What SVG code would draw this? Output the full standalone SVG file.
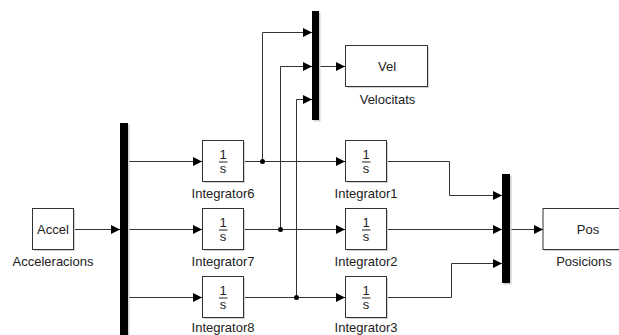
<svg xmlns="http://www.w3.org/2000/svg" width="619" height="335" viewBox="0 0 619 335">
<defs>
<marker id="arr" markerUnits="userSpaceOnUse" markerWidth="10" markerHeight="10" refX="9" refY="4.5" orient="auto">
<path d="M0,0 L9,4.5 L0,9 Z" fill="#000"/>
</marker>
<style>
.blk{fill:#fff;stroke:#333;stroke-width:1}
.sh{fill:#d0d0d0}
.bar{fill:#000}
.t{font-family:"Liberation Sans",Arial,sans-serif;font-size:13px;fill:#222;text-anchor:middle}
.w{fill:none;stroke:#333;stroke-width:1}
.a{marker-end:url(#arr)}
.fl{stroke:#222;stroke-width:1}
</style>
</defs>
<rect width="619" height="335" fill="#fff"/>
<g id="connectors">
<path class="w a" d="M73,229.5 H120"/>
<path class="w a" d="M128,161.5 H202"/>
<path class="w a" d="M128,229.5 H202"/>
<path class="w a" d="M128,297.5 H202"/>
<path class="w a" d="M244,161.5 H345"/>
<path class="w a" d="M244,229.5 H345"/>
<path class="w a" d="M244,297.5 H345"/>
<path class="w a" d="M262.5,161.5 V32.5 H312"/>
<path class="w a" d="M280.5,229.5 V66.5 H312"/>
<path class="w a" d="M296.5,297.5 V99.5 H312"/>
<path class="w a" d="M318,66.5 H345"/>
<path class="w a" d="M387,161.5 H449.5 V195.5 H502"/>
<path class="w a" d="M387,229.5 H502"/>
<path class="w a" d="M387,297.5 H451.5 V263.5 H502"/>
<path class="w a" d="M510,229.5 H543"/>
<circle cx="262.5" cy="161.5" r="2.5" fill="#000"/>
<circle cx="280.5" cy="229.5" r="2.5" fill="#000"/>
<circle cx="296.5" cy="297.5" r="2.5" fill="#000"/>
</g>
<g id="Acceleracions">
<rect class="sh" x="34" y="210" width="41" height="41"/>
<rect class="blk" x="32.5" y="208.5" width="41" height="41"/>
<text class="t" x="53" y="234">Accel</text>
<text class="t" x="53" y="266">Acceleracions</text>
</g>
<g id="Demux">
<rect class="sh" x="121.5" y="124.5" width="8" height="212"/>
<rect class="bar" x="120" y="123" width="8" height="212"/>
</g>
<g id="Integrator6">
<rect class="sh" x="204" y="142" width="41" height="41"/>
<rect class="blk" x="202.5" y="140.5" width="41" height="41"/>
<text class="t" x="223" y="158.5">1</text>
<line class="fl" x1="219" y1="162" x2="227.5" y2="162"/>
<text class="t" x="223" y="173">s</text>
<text class="t" x="223" y="197.5">Integrator6</text>
</g>
<g id="Integrator7">
<rect class="sh" x="204" y="210" width="41" height="41"/>
<rect class="blk" x="202.5" y="208.5" width="41" height="41"/>
<text class="t" x="223" y="226.5">1</text>
<line class="fl" x1="219" y1="230" x2="227.5" y2="230"/>
<text class="t" x="223" y="241">s</text>
<text class="t" x="223" y="266">Integrator7</text>
</g>
<g id="Integrator8">
<rect class="sh" x="204" y="278" width="41" height="41"/>
<rect class="blk" x="202.5" y="276.5" width="41" height="41"/>
<text class="t" x="223" y="294.5">1</text>
<line class="fl" x1="219" y1="298" x2="227.5" y2="298"/>
<text class="t" x="223" y="309">s</text>
<text class="t" x="223" y="332">Integrator8</text>
</g>
<g id="Integrator1">
<rect class="sh" x="347" y="142" width="41" height="41"/>
<rect class="blk" x="345.5" y="140.5" width="41" height="41"/>
<text class="t" x="366" y="158.5">1</text>
<line class="fl" x1="362" y1="162" x2="370.5" y2="162"/>
<text class="t" x="366" y="173">s</text>
<text class="t" x="366" y="197.5">Integrator1</text>
</g>
<g id="Integrator2">
<rect class="sh" x="347" y="210" width="41" height="41"/>
<rect class="blk" x="345.5" y="208.5" width="41" height="41"/>
<text class="t" x="366" y="226.5">1</text>
<line class="fl" x1="362" y1="230" x2="370.5" y2="230"/>
<text class="t" x="366" y="241">s</text>
<text class="t" x="366" y="266">Integrator2</text>
</g>
<g id="Integrator3">
<rect class="sh" x="347" y="278" width="41" height="41"/>
<rect class="blk" x="345.5" y="276.5" width="41" height="41"/>
<text class="t" x="366" y="294.5">1</text>
<line class="fl" x1="362" y1="298" x2="370.5" y2="298"/>
<text class="t" x="366" y="309">s</text>
<text class="t" x="366" y="332">Integrator3</text>
</g>
<g id="MuxVel">
<rect class="sh" x="313.5" y="12.5" width="7" height="109"/>
<rect class="bar" x="312" y="11" width="7" height="109"/>
</g>
<g id="Velocitats">
<rect class="sh" x="347" y="47" width="82" height="41"/>
<rect class="blk" x="345.5" y="45.5" width="82" height="41"/>
<text class="t" x="387" y="70.5">Vel</text>
<text class="t" x="387.5" y="103.5">Velocitats</text>
</g>
<g id="MuxPos">
<rect class="sh" x="503.5" y="175.5" width="8" height="109"/>
<rect class="bar" x="502" y="174" width="8" height="109"/>
</g>
<g id="Posicions">
<rect class="sh" x="544.5" y="210" width="90" height="41"/>
<rect class="blk" x="543" y="208.5" width="90" height="41"/>
<text class="t" x="588" y="234">Pos</text>
<text class="t" x="584" y="266">Posicions</text>
</g>
</svg>
